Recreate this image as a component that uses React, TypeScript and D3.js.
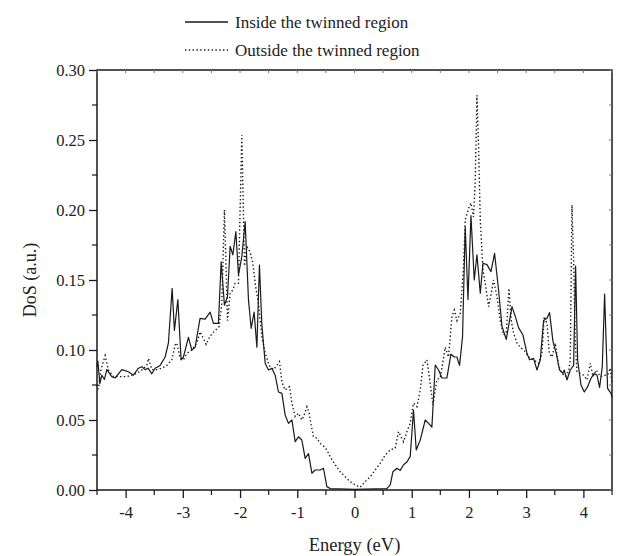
import React, { useRef, useEffect } from "react";
import * as d3 from "d3";

// [energy (eV), DoS (a.u.)]
const insideData: [number, number][] = [
  [-4.5, 0.088], [-4.485, 0.092], [-4.45, 0.076], [-4.416, 0.082], [-4.37, 0.079],
  [-4.329, 0.086], [-4.241, 0.081], [-4.184, 0.080], [-4.066, 0.086], [-3.951, 0.0845],
  [-3.864, 0.082], [-3.776, 0.087], [-3.717, 0.088], [-3.659, 0.086], [-3.607, 0.087],
  [-3.542, 0.083], [-3.484, 0.087], [-3.397, 0.089], [-3.309, 0.095], [-3.252, 0.105],
  [-3.187, 0.144], [-3.147, 0.114], [-3.087, 0.136], [-3.03, 0.093], [-2.99, 0.095],
  [-2.902, 0.109], [-2.843, 0.1], [-2.785, 0.102], [-2.699, 0.1226], [-2.61, 0.122],
  [-2.523, 0.127], [-2.465, 0.119], [-2.378, 0.119], [-2.33, 0.163], [-2.273, 0.132],
  [-2.22, 0.138], [-2.173, 0.174], [-2.126, 0.168], [-2.073, 0.1845], [-2.028, 0.1536],
  [-1.969, 0.1667], [-1.911, 0.1917], [-1.853, 0.136], [-1.806, 0.1155], [-1.754, 0.127],
  [-1.706, 0.102], [-1.661, 0.1607], [-1.619, 0.118], [-1.561, 0.0905], [-1.503, 0.0857],
  [-1.444, 0.087], [-1.386, 0.082], [-1.329, 0.070], [-1.269, 0.069], [-1.212, 0.0536],
  [-1.154, 0.0476], [-1.094, 0.05], [-1.037, 0.0345], [-0.979, 0.038], [-0.92, 0.0357],
  [-0.862, 0.0226], [-0.804, 0.026], [-0.745, 0.012], [-0.687, 0.0143], [-0.6, 0.0143],
  [-0.542, 0.0155], [-0.483, 0.0024], [-0.425, 0.001], [0.0, 0.0005], [0.566, 0.001],
  [0.624, 0.0036], [0.671, 0.013], [0.741, 0.0155], [0.799, 0.014], [0.857, 0.018],
  [0.916, 0.02], [0.974, 0.024], [1.031, 0.057], [1.079, 0.0286], [1.149, 0.0357],
  [1.236, 0.05], [1.294, 0.0476], [1.353, 0.045], [1.411, 0.0893], [1.469, 0.0857],
  [1.528, 0.080], [1.615, 0.080], [1.685, 0.097], [1.743, 0.095], [1.79, 0.095],
  [1.836, 0.089], [1.888, 0.1095], [1.935, 0.188], [1.983, 0.136], [2.035, 0.196],
  [2.093, 0.15], [2.14, 0.168], [2.198, 0.1405], [2.245, 0.162], [2.315, 0.161],
  [2.385, 0.156], [2.448, 0.169], [2.517, 0.143], [2.577, 0.117], [2.652, 0.1076],
  [2.752, 0.131], [2.81, 0.124], [2.867, 0.116], [2.944, 0.1107], [3.014, 0.0976],
  [3.059, 0.093], [3.129, 0.094], [3.189, 0.0857], [3.247, 0.093], [3.304, 0.121],
  [3.364, 0.1226], [3.409, 0.1267], [3.469, 0.106], [3.526, 0.0976], [3.584, 0.0857],
  [3.643, 0.0833], [3.664, 0.0857], [3.713, 0.0786], [3.771, 0.0857], [3.829, 0.089],
  [3.864, 0.16], [3.899, 0.093], [3.958, 0.075], [4.016, 0.070], [4.073, 0.0738],
  [4.133, 0.0798], [4.19, 0.0833], [4.238, 0.082], [4.283, 0.0733], [4.33, 0.088],
  [4.371, 0.14], [4.423, 0.0726], [4.483, 0.069], [4.5, 0.066],
];

const outsideData: [number, number][] = [
  [-4.5, 0.075], [-4.476, 0.072], [-4.43, 0.086], [-4.358, 0.096], [-4.301, 0.0857],
  [-4.213, 0.081], [-4.096, 0.081], [-3.979, 0.081], [-3.892, 0.082], [-3.804, 0.0833],
  [-3.717, 0.0857], [-3.629, 0.089], [-3.601, 0.094], [-3.542, 0.086], [-3.455, 0.086],
  [-3.367, 0.087], [-3.28, 0.089], [-3.192, 0.093], [-3.135, 0.1036], [-3.105, 0.105],
  [-3.047, 0.094], [-2.99, 0.093], [-2.93, 0.0976], [-2.843, 0.1], [-2.755, 0.105],
  [-2.698, 0.113], [-2.593, 0.104], [-2.523, 0.11], [-2.435, 0.114], [-2.365, 0.1167],
  [-2.318, 0.1336], [-2.273, 0.2], [-2.243, 0.157], [-2.22, 0.121], [-2.173, 0.1405],
  [-2.126, 0.143], [-2.086, 0.1476], [-2.028, 0.1476], [-1.969, 0.2536], [-1.923, 0.16],
  [-1.881, 0.174], [-1.824, 0.17], [-1.776, 0.162], [-1.736, 0.1476], [-1.678, 0.133],
  [-1.619, 0.1095], [-1.561, 0.098], [-1.491, 0.089], [-1.416, 0.086], [-1.357, 0.089],
  [-1.311, 0.0917], [-1.269, 0.077], [-1.212, 0.0714], [-1.136, 0.0738], [-1.094, 0.062],
  [-1.037, 0.0524], [-0.979, 0.0548], [-0.92, 0.05], [-0.879, 0.0536], [-0.832, 0.0595],
  [-0.792, 0.0548], [-0.762, 0.0476], [-0.717, 0.038], [-0.657, 0.037], [-0.6, 0.0333],
  [-0.53, 0.031], [-0.483, 0.0286], [-0.425, 0.0238], [-0.337, 0.018], [-0.25, 0.013],
  [-0.163, 0.0095], [-0.075, 0.006], [0.012, 0.0036], [0.1, 0.002], [0.187, 0.006],
  [0.274, 0.0095], [0.362, 0.0143], [0.449, 0.019], [0.537, 0.025], [0.624, 0.0286],
  [0.712, 0.03], [0.769, 0.0417], [0.857, 0.0345], [0.916, 0.0417], [0.974, 0.0476],
  [1.031, 0.062], [1.091, 0.0595], [1.149, 0.0714], [1.196, 0.089], [1.266, 0.093],
  [1.323, 0.076], [1.371, 0.0607], [1.441, 0.079], [1.498, 0.08], [1.586, 0.102],
  [1.643, 0.095], [1.703, 0.124], [1.743, 0.1286], [1.79, 0.121], [1.848, 0.126],
  [1.906, 0.1595], [1.935, 0.193], [1.993, 0.201], [2.035, 0.205], [2.08, 0.195],
  [2.11, 0.221], [2.14, 0.282], [2.168, 0.245], [2.198, 0.193], [2.245, 0.157],
  [2.285, 0.1476], [2.343, 0.131], [2.39, 0.1405], [2.43, 0.15], [2.49, 0.138],
  [2.547, 0.121], [2.605, 0.1107], [2.652, 0.112], [2.699, 0.144], [2.74, 0.121],
  [2.78, 0.112], [2.839, 0.105], [2.897, 0.102], [2.985, 0.0988], [3.042, 0.095],
  [3.129, 0.093], [3.217, 0.0905], [3.276, 0.0976], [3.316, 0.124], [3.364, 0.119],
  [3.404, 0.0976], [3.451, 0.095], [3.509, 0.105], [3.566, 0.089], [3.626, 0.0833],
  [3.683, 0.081], [3.741, 0.0845], [3.771, 0.093], [3.8, 0.2036], [3.829, 0.164],
  [3.858, 0.105], [3.888, 0.0845], [3.946, 0.0833], [4.003, 0.082], [4.062, 0.0786],
  [4.121, 0.0905], [4.168, 0.081], [4.226, 0.0857], [4.296, 0.081], [4.366, 0.082],
  [4.423, 0.082], [4.47, 0.087], [4.5, 0.076],
];

const xTicks = [-4, -3, -2, -1, 0, 1, 2, 3, 4];
const xMinorTicks = [-4.5, -3.5, -2.5, -1.5, -0.5, 0.5, 1.5, 2.5, 3.5, 4.5];
const yTicks = [0, 0.05, 0.1, 0.15, 0.2, 0.25, 0.3];
const yMinorTicks = [0.025, 0.075, 0.125, 0.175, 0.225, 0.275];
const legendLabels = ["Inside the twinned region", "Outside the twinned region"];

const W = 620, H = 556;
const FONT = "'Liberation Serif', 'DejaVu Serif', serif";

export default function App() {
  const svgRef = useRef<SVGSVGElement>(null);

  useEffect(() => {
    const margin = { top: 70, right: 8, bottom: 66, left: 97 };
    const x = d3.scaleLinear().domain([-4.5, 4.5]).range([margin.left, W - margin.right]);
    const y = d3.scaleLinear().domain([0, 0.3]).range([H - margin.bottom, margin.top]);

    const svg = d3.select(svgRef.current);
    svg.selectAll("*").remove();

    const ink = "#1a1a1a";

    // curves
    const line = d3.line<[number, number]>().x(d => x(d[0])).y(d => y(d[1]));
    svg.append("path")
      .datum(outsideData)
      .attr("d", line)
      .attr("fill", "none")
      .attr("stroke", ink)
      .attr("stroke-width", 1.4)
      .attr("stroke-dasharray", "1.4,2.4");
    svg.append("path")
      .datum(insideData)
      .attr("d", line)
      .attr("fill", "none")
      .attr("stroke", ink)
      .attr("stroke-width", 1.2)
      .attr("stroke-linejoin", "round");

    // frame
    svg.append("rect")
      .attr("x", x(-4.5)).attr("y", y(0.3))
      .attr("width", x(4.5) - x(-4.5)).attr("height", y(0) - y(0.3))
      .attr("fill", "none").attr("stroke", ink).attr("stroke-width", 1.5);

    // bottom axis
    const xAxis = svg.append("g")
      .attr("transform", `translate(0,${y(0)})`)
      .call(d3.axisBottom(x).tickValues(xTicks).tickSize(8).tickPadding(8).tickFormat(d => String(d)));
    xAxis.select(".domain").remove();
    xAxis.selectAll(".tick line").attr("stroke", ink).attr("stroke-width", 1.3);
    xAxis.selectAll("text")
      .style("font-family", FONT).style("font-size", "16.5px").attr("fill", "#222");
    svg.append("g").selectAll("line").data(xMinorTicks).join("line")
      .attr("x1", d => x(d)).attr("x2", d => x(d))
      .attr("y1", y(0)).attr("y2", y(0) + 5)
      .attr("stroke", ink).attr("stroke-width", 1.2);

    // left axis
    const yAxis = svg.append("g")
      .attr("transform", `translate(${x(-4.5)},0)`)
      .call(d3.axisLeft(y).tickValues(yTicks).tickSize(8).tickPadding(4).tickFormat(d3.format(".2f")));
    yAxis.select(".domain").remove();
    yAxis.selectAll(".tick line").attr("stroke", ink).attr("stroke-width", 1.3);
    yAxis.selectAll("text")
      .style("font-family", FONT).style("font-size", "16.5px").attr("fill", "#222");
    svg.append("g").selectAll("line").data(yMinorTicks).join("line")
      .attr("x1", x(-4.5) - 5).attr("x2", x(-4.5))
      .attr("y1", d => y(d)).attr("y2", d => y(d))
      .attr("stroke", ink).attr("stroke-width", 1.2);

    // inward ticks on top and right
    const topTicks = [...xTicks, ...xMinorTicks];
    svg.append("g").selectAll("line").data(topTicks).join("line")
      .attr("x1", d => x(d)).attr("x2", d => x(d))
      .attr("y1", y(0.3)).attr("y2", y(0.3) + 3)
      .attr("stroke", "#777").attr("stroke-width", 1);
    const rightTicks = [...yTicks, ...yMinorTicks];
    svg.append("g").selectAll("line").data(rightTicks).join("line")
      .attr("x1", x(4.5) - 3).attr("x2", x(4.5))
      .attr("y1", d => y(d)).attr("y2", d => y(d))
      .attr("stroke", "#777").attr("stroke-width", 1);

    // axis titles
    svg.append("text")
      .attr("x", x(0)).attr("y", 551)
      .attr("text-anchor", "middle")
      .style("font-family", FONT).style("font-size", "18.5px").attr("fill", "#222")
      .text("Energy (eV)");
    svg.append("text")
      .attr("transform", `translate(36,${y(0.15)}) rotate(-90)`)
      .attr("text-anchor", "middle")
      .style("font-family", FONT).style("font-size", "18px").attr("fill", "#222")
      .text("DoS (a.u.)");

    // legend
    const legend = svg.append("g");
    legendLabels.forEach((label, i) => {
      const ly = 22 + i * 28;
      legend.append("line")
        .attr("x1", 185).attr("x2", 228).attr("y1", ly).attr("y2", ly)
        .attr("stroke", ink)
        .attr("stroke-width", i === 0 ? 1.3 : 1.4)
        .attr("stroke-dasharray", i === 0 ? null : "1.4,2.4");
      legend.append("text")
        .attr("x", 235).attr("y", ly + 6)
        .style("font-family", FONT).style("font-size", "17px").attr("fill", "#222")
        .text(label);
    });
  }, []);

  return (
    <svg
      ref={svgRef}
      width={W}
      height={H}
      style={{ position: "absolute", left: 0, top: 0, background: "#fff", display: "block" }}
    />
  );
}
